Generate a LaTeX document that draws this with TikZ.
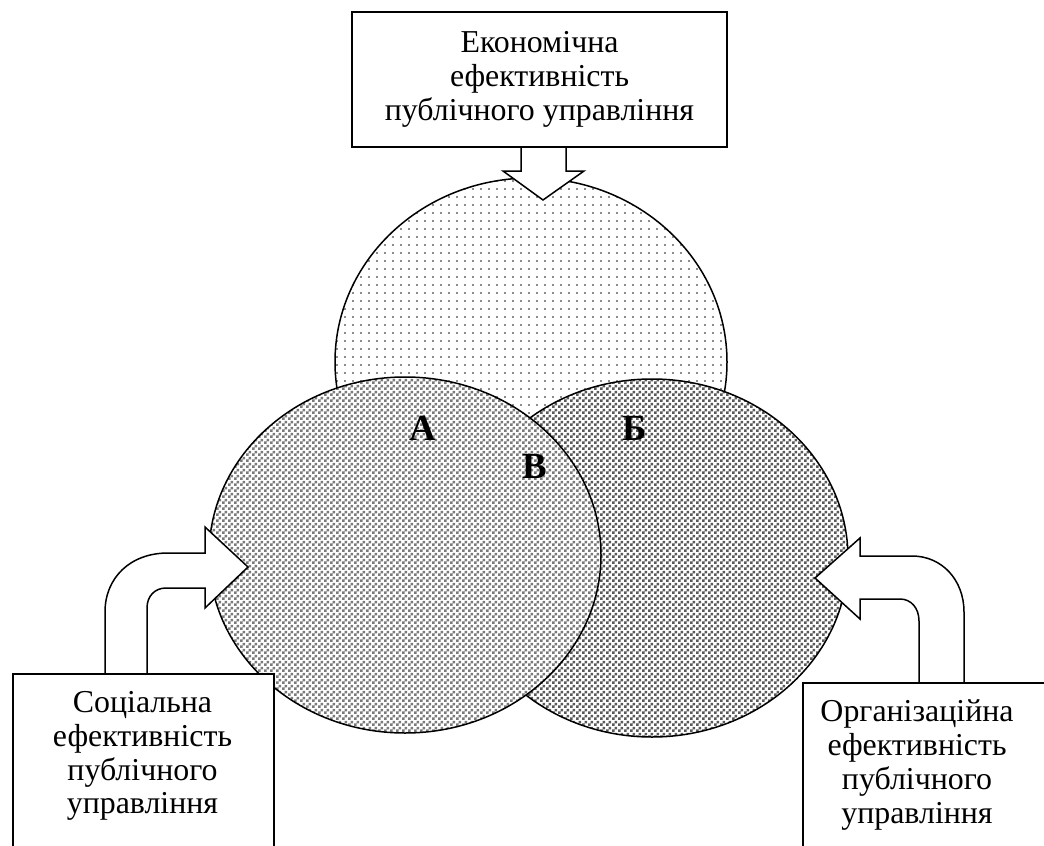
\documentclass[tikz,border=0pt]{standalone}
\usepackage{fontspec}
\setmainfont{Liberation Serif}
\usetikzlibrary{shapes.geometric,patterns}
\pgfdeclarepatternformonly{sparsedots}{\pgfqpoint{-1bp}{-1bp}}{\pgfqpoint{9bp}{9bp}}{\pgfqpoint{8bp}{8bp}}{%
  \pgfpathrectangle{\pgfqpoint{0bp}{0bp}}{\pgfqpoint{1.8bp}{1.8bp}}\pgfusepath{fill}}
\pgfdeclarepatternformonly{checker}{\pgfpointorigin}{\pgfqpoint{6bp}{6bp}}{\pgfqpoint{6bp}{6bp}}{%
  \pgfpathrectangle{\pgfpointorigin}{\pgfqpoint{3bp}{3bp}}%
  \pgfpathrectangle{\pgfqpoint{3bp}{3bp}}{\pgfqpoint{3bp}{3bp}}\pgfusepath{fill}}
\begin{document}
\begin{tikzpicture}[x=1bp,y=-1bp,
  outline/.style={line width=1.5bp, draw=black},
  circ/.style={ellipse, outline, inner sep=0pt, minimum width=392bp, preaction={fill=white}},
  boxtxt/.style={align=center, font=\fontsize{32}{34}\selectfont},
  lbl/.style={font=\fontsize{37}{40}\selectfont\bfseries},
  plainbox/.style={outline, fill=white, inner sep=0pt},
  blockarrow/.style={outline, fill=white, line join=miter}]
\fill[white] (0,0) rectangle (1044,846);
\clip (0,0) rectangle (1044,846);
% circles
\node[circ, minimum height=368bp, pattern=sparsedots, pattern color=black!45] (econ) at (531,362) {};
\node[circ, minimum height=358bp, pattern=checker, pattern color=black!65] (org) at (652,558) {};
\node[circ, minimum height=356bp, pattern=checker, pattern color=black!52] (soc) at (405,555) {};
% labels
\node[lbl] (la) at (423,428) {А};
\node[lbl] (lb) at (635,428) {Б};
\node[lbl] (lv) at (535,466) {В};
% block arrows
\draw[blockarrow] (521,147) -- (521,171) -- (503,171) -- (543,200) -- (584,171) -- (566,171) -- (566,147);
\draw[blockarrow] (105,673) -- (105,612) .. controls (105,578) and (130,553) .. (168,553) -- (205,553) -- (205,527) -- (248,567) -- (205,608) -- (205,588) -- (166,588) .. controls (155,588) and (147,596) .. (147,608) -- (147,673);
\draw[blockarrow] (919,682) -- (919,621) .. controls (919,608) and (911,599) .. (900,599) -- (860,599) -- (860,619) -- (815,578) -- (860,538) -- (860,556) -- (912,556) .. controls (942,556) and (964,580) .. (964,612) -- (964,682);
% boxes
\node[plainbox, boxtxt, minimum width=375bp, minimum height=135bp] (econbox) at (539.5,79.5) {Економічна\\ефективність\\публічного управління};
\node[plainbox, minimum width=261bp, minimum height=220bp, anchor=north west] (socbox) at (12,673) {};
\node[boxtxt] (soctxt) at (142.5,756) {Соціальна\\ефективність\\публічного\\управління};
\node[plainbox, minimum width=300bp, minimum height=220bp, anchor=north west] (orgbox) at (802,682) {};
\node[boxtxt] (orgtxt) at (917,765) {Організаційна\\ефективність\\публічного\\управління};
\end{tikzpicture}
\end{document}
